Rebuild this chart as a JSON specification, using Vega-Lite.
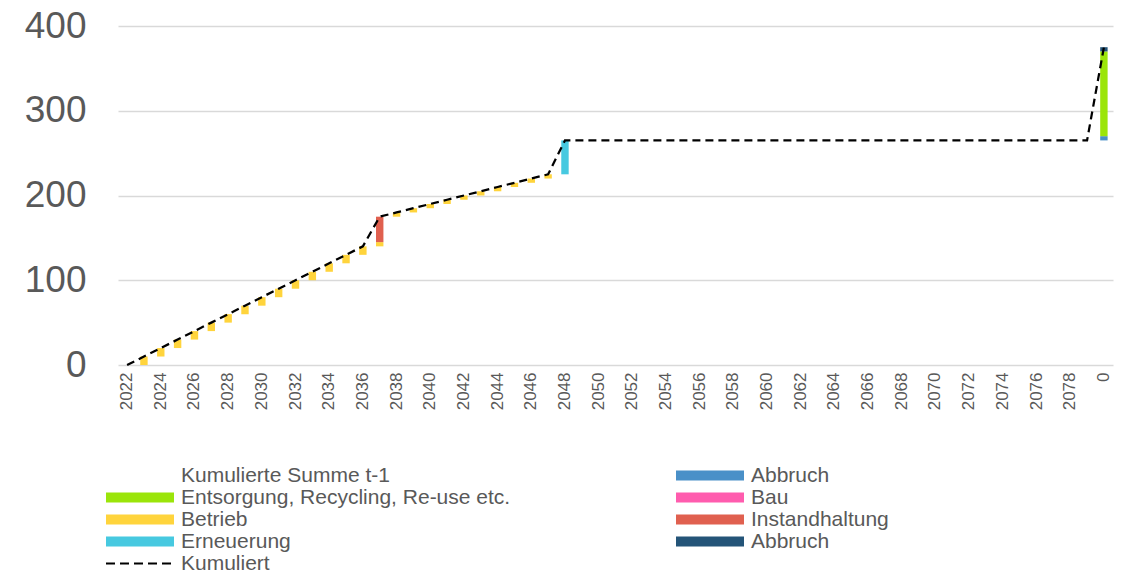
{
  "$schema": "https://vega.github.io/schema/vega-lite/v6.json",
  "width": 995,
  "height": 339,
  "autosize": {"type": "none"},
  "padding": {"left": 118, "top": 26, "right": 14, "bottom": 206},
  "config": {"view": {"stroke": null}, "font": "Liberation Sans"},
  "datasets": {
    "bars": [
      {"jahr": "2023", "reihe": "Betrieb", "von": 0, "bis": 10},
      {"jahr": "2024", "reihe": "Betrieb", "von": 10, "bis": 20},
      {"jahr": "2025", "reihe": "Betrieb", "von": 20, "bis": 30},
      {"jahr": "2026", "reihe": "Betrieb", "von": 30, "bis": 40},
      {"jahr": "2027", "reihe": "Betrieb", "von": 40, "bis": 50},
      {"jahr": "2028", "reihe": "Betrieb", "von": 50, "bis": 60},
      {"jahr": "2029", "reihe": "Betrieb", "von": 60, "bis": 70},
      {"jahr": "2030", "reihe": "Betrieb", "von": 70, "bis": 80},
      {"jahr": "2031", "reihe": "Betrieb", "von": 80, "bis": 90},
      {"jahr": "2032", "reihe": "Betrieb", "von": 90, "bis": 100},
      {"jahr": "2033", "reihe": "Betrieb", "von": 100, "bis": 110},
      {"jahr": "2034", "reihe": "Betrieb", "von": 110, "bis": 120},
      {"jahr": "2035", "reihe": "Betrieb", "von": 120, "bis": 130},
      {"jahr": "2036", "reihe": "Betrieb", "von": 130, "bis": 140},
      {"jahr": "2037", "reihe": "Betrieb", "von": 140, "bis": 145},
      {"jahr": "2037", "reihe": "Instandhaltung", "von": 145, "bis": 175},
      {"jahr": "2038", "reihe": "Betrieb", "von": 175, "bis": 180},
      {"jahr": "2039", "reihe": "Betrieb", "von": 180, "bis": 185},
      {"jahr": "2040", "reihe": "Betrieb", "von": 185, "bis": 190},
      {"jahr": "2041", "reihe": "Betrieb", "von": 190, "bis": 195},
      {"jahr": "2042", "reihe": "Betrieb", "von": 195, "bis": 200},
      {"jahr": "2043", "reihe": "Betrieb", "von": 200, "bis": 205},
      {"jahr": "2044", "reihe": "Betrieb", "von": 205, "bis": 210},
      {"jahr": "2045", "reihe": "Betrieb", "von": 210, "bis": 215},
      {"jahr": "2046", "reihe": "Betrieb", "von": 215, "bis": 220},
      {"jahr": "2047", "reihe": "Betrieb", "von": 220, "bis": 225},
      {"jahr": "2048", "reihe": "Erneuerung", "von": 225, "bis": 265},
      {"jahr": "0", "reihe": "Abbruch", "von": 265, "bis": 270},
      {"jahr": "0", "reihe": "Entsorgung, Recycling, Re-use etc.", "von": 270, "bis": 370},
      {"jahr": "0", "reihe": "Abbruch ", "von": 370, "bis": 375}
    ],
    "linie": [
      {"jahr": "2022", "kum": 0}, {"jahr": "2023", "kum": 10}, {"jahr": "2024", "kum": 20},
      {"jahr": "2025", "kum": 30}, {"jahr": "2026", "kum": 40}, {"jahr": "2027", "kum": 50},
      {"jahr": "2028", "kum": 60}, {"jahr": "2029", "kum": 70}, {"jahr": "2030", "kum": 80},
      {"jahr": "2031", "kum": 90}, {"jahr": "2032", "kum": 100}, {"jahr": "2033", "kum": 110},
      {"jahr": "2034", "kum": 120}, {"jahr": "2035", "kum": 130}, {"jahr": "2036", "kum": 140},
      {"jahr": "2037", "kum": 175}, {"jahr": "2038", "kum": 180}, {"jahr": "2039", "kum": 185},
      {"jahr": "2040", "kum": 190}, {"jahr": "2041", "kum": 195}, {"jahr": "2042", "kum": 200},
      {"jahr": "2043", "kum": 205}, {"jahr": "2044", "kum": 210}, {"jahr": "2045", "kum": 215},
      {"jahr": "2046", "kum": 220}, {"jahr": "2047", "kum": 225}, {"jahr": "2048", "kum": 265},
      {"jahr": "2049", "kum": 265}, {"jahr": "2050", "kum": 265}, {"jahr": "2051", "kum": 265},
      {"jahr": "2052", "kum": 265}, {"jahr": "2053", "kum": 265}, {"jahr": "2054", "kum": 265},
      {"jahr": "2055", "kum": 265}, {"jahr": "2056", "kum": 265}, {"jahr": "2057", "kum": 265},
      {"jahr": "2058", "kum": 265}, {"jahr": "2059", "kum": 265}, {"jahr": "2060", "kum": 265},
      {"jahr": "2061", "kum": 265}, {"jahr": "2062", "kum": 265}, {"jahr": "2063", "kum": 265},
      {"jahr": "2064", "kum": 265}, {"jahr": "2065", "kum": 265}, {"jahr": "2066", "kum": 265},
      {"jahr": "2067", "kum": 265}, {"jahr": "2068", "kum": 265}, {"jahr": "2069", "kum": 265},
      {"jahr": "2070", "kum": 265}, {"jahr": "2071", "kum": 265}, {"jahr": "2072", "kum": 265},
      {"jahr": "2073", "kum": 265}, {"jahr": "2074", "kum": 265}, {"jahr": "2075", "kum": 265},
      {"jahr": "2076", "kum": 265}, {"jahr": "2077", "kum": 265}, {"jahr": "2078", "kum": 265},
      {"jahr": "2079", "kum": 265}, {"jahr": "0", "kum": 375}
    ]
  },
  "layer": [
    {
      "data": {"name": "bars"},
      "mark": {"type": "bar"},
      "encoding": {
        "x": {
          "field": "jahr",
          "type": "nominal",
          "scale": {
            "domain": ["2022","2023","2024","2025","2026","2027","2028","2029","2030","2031","2032","2033","2034","2035","2036","2037","2038","2039","2040","2041","2042","2043","2044","2045","2046","2047","2048","2049","2050","2051","2052","2053","2054","2055","2056","2057","2058","2059","2060","2061","2062","2063","2064","2065","2066","2067","2068","2069","2070","2071","2072","2073","2074","2075","2076","2077","2078","2079","0"],
            "paddingInner": 0.56,
            "paddingOuter": 0.32
          },
          "axis": {
            "title": null,
            "domain": false,
            "ticks": false,
            "labelAngle": 270,
            "labelFontSize": 17,
            "labelColor": "#595959",
            "labelPadding": 7,
            "labelOverlap": false,
            "labelExpr": "toNumber(datum.value) % 2 == 0 ? datum.label : ''"
          }
        },
        "y": {
          "field": "von",
          "type": "quantitative",
          "scale": {"domain": [0, 400], "nice": false},
          "axis": {
            "title": null,
            "domain": false,
            "ticks": false,
            "values": [0, 100, 200, 300, 400],
            "labelFontSize": 37,
            "labelColor": "#595959",
            "labelPadding": 32,
            "gridColor": "#d9d9d9",
            "gridWidth": 1.5
          }
        },
        "y2": {"field": "bis"},
        "color": {
          "field": "reihe",
          "type": "nominal",
          "scale": {
            "domain": ["Kumulierte Summe t-1", "Entsorgung, Recycling, Re-use etc.", "Betrieb", "Erneuerung", "Kumuliert", "Abbruch", "Bau", "Instandhaltung", "Abbruch "],
            "range": ["transparent", "#9BE50A", "#FFD43C", "#47C9E0", "transparent", "#4A90C8", "#FF5CAE", "#E0604F", "#245478"]
          },
          "legend": {
            "title": null,
            "orient": "none",
            "legendX": -13,
            "legendY": 439,
            "columns": 2,
            "columnPadding": 164,
            "rowPadding": 0,
            "clipHeight": 21,
            "symbolType": "M-1,-0.15H1V0.15H-1Z",
            "symbolSize": 4624,
            "symbolStrokeWidth": 2,
            "labelFontSize": 21,
            "labelColor": "#595959",
            "labelLimit": 600,
            "labelOffset": 6,
            "labelExpr": "trim(datum.label)",
            "encode": {
              "symbols": {
                "update": {
                  "shape": {"signal": "datum.value === 'Kumuliert' ? 'M-1,0H1' : 'M-1,-0.15H1V0.15H-1Z'"},
                  "stroke": {"signal": "datum.value === 'Kumuliert' ? '#000000' : 'transparent'"},
                  "strokeDash": {"value": [9, 5]},
                  "strokeWidth": {"value": 2}
                }
              }
            }
          }
        }
      }
    },
    {
      "data": {"name": "linie"},
      "mark": {"type": "line", "color": "#000000", "strokeDash": [8, 5], "strokeWidth": 2.25},
      "encoding": {
        "x": {"field": "jahr", "type": "nominal"},
        "y": {"field": "kum", "type": "quantitative"}
      }
    }
  ]
}
